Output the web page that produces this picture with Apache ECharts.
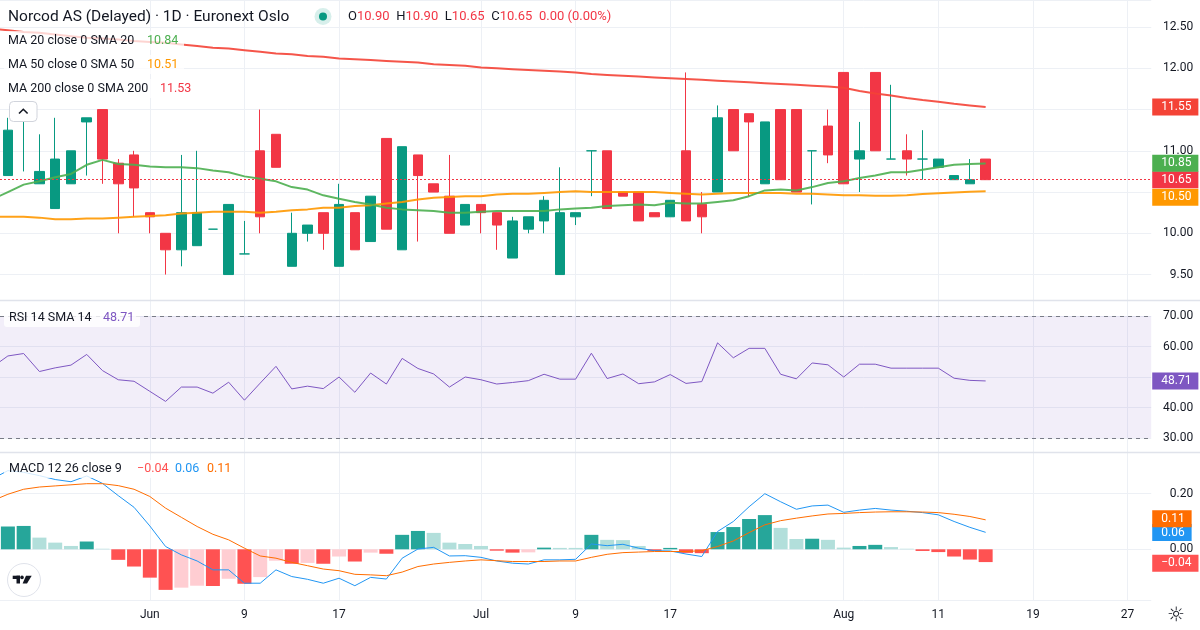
<!DOCTYPE html>
<html>
<head>
<meta charset="utf-8">
<script src="https://cdn.jsdelivr.net/npm/echarts@6/dist/echarts.min.js"></script>
<style>
  html, body { margin: 0; padding: 0; background: #fff; }
  #chart { width: 1200px; height: 630px; }
</style>
</head>
<body>
<div id="chart"></div>
<script>
// one slot per trading day; slot -1 is only the point the lines enter from at the left edge,
// slots 63..72 are the empty future area on the right
const slots = []
for (let i = -1; i <= 72; i++) slots.push(String(i))

const xTickAt = [9, 15, 21, 30, 36, 42, 53, 59, 65, 71]
const xTickText = ['Jun', '9', '17', 'Jul', '9', '17', 'Aug', '11', '19', '27']

// daily candles, index -1 .. 62
const opens = ['-',
  10.70, 11.40, 10.60, 10.30, 10.60, 11.35, 11.50, 10.85, 10.95, 10.25,
  10.00, 9.80, 9.85, 10.05, 9.50, 9.75, 11.00, 11.20, 9.60, 10.00,
  10.25, 9.60, 10.25, 9.90, 11.15, 9.80, 10.95, 10.60, 10.45, 10.10,
  10.35, 10.25, 9.70, 10.05, 10.15, 9.50, 10.20, 11.00, 11.00, 10.50,
  10.50, 10.25, 10.20, 11.00, 10.35, 10.50, 11.50, 11.45, 10.60, 11.50,
  11.50, 11.00, 11.30, 11.95, 10.90, 11.95, 10.90, 11.00, 10.90, 10.80,
  10.65, 10.60, 10.90]
const closes = ['-',
  11.25, 11.40, 10.75, 10.90, 11.00, 11.40, 10.90, 10.60, 10.55, 10.20,
  9.80, 10.25, 10.25, 10.05, 10.35, 9.75, 10.20, 10.80, 10.00, 10.10,
  10.00, 10.35, 9.80, 10.45, 10.05, 11.05, 10.70, 10.50, 10.00, 10.35,
  10.25, 10.10, 10.15, 10.20, 10.40, 10.25, 10.25, 11.00, 10.30, 10.45,
  10.15, 10.20, 10.40, 10.15, 10.20, 11.40, 11.00, 11.35, 11.35, 10.65,
  10.50, 11.00, 10.95, 10.60, 11.00, 11.00, 10.90, 10.90, 10.90, 10.90,
  10.70, 10.65, 10.65]
const lows = ['-',
  10.70, 10.75, 10.60, 10.30, 10.60, 10.70, 10.60, 10.00, 10.20, 10.00,
  9.50, 9.60, 9.85, 10.05, 9.50, 9.75, 10.00, 10.80, 9.60, 9.90,
  9.80, 9.60, 9.80, 9.90, 10.05, 9.80, 9.90, 10.50, 10.00, 10.10,
  10.00, 9.80, 9.70, 10.00, 10.00, 9.50, 10.10, 10.45, 10.30, 10.45,
  10.15, 10.20, 10.20, 10.15, 10.00, 10.50, 11.00, 10.45, 10.60, 10.65,
  10.50, 10.35, 10.85, 10.60, 10.50, 11.00, 10.90, 10.70, 10.65, 10.80,
  10.65, 10.60, 10.65]
const highs = ['-',
  11.40, 11.45, 11.20, 11.40, 11.00, 11.40, 11.50, 10.90, 11.00, 10.25,
  10.00, 10.95, 11.00, 10.05, 10.35, 10.15, 11.50, 11.20, 10.25, 10.10,
  10.25, 10.60, 10.25, 10.45, 11.15, 11.05, 10.95, 10.60, 10.95, 10.35,
  10.35, 10.25, 10.20, 10.20, 10.45, 10.80, 10.25, 11.00, 11.00, 10.50,
  10.50, 10.25, 10.40, 11.95, 10.50, 11.55, 11.50, 11.45, 11.35, 11.50,
  11.50, 11.00, 11.50, 11.95, 11.35, 11.95, 11.80, 11.20, 11.25, 10.90,
  10.70, 10.90, 10.90]

const sma20 = [10.41,
  10.50, 10.59, 10.63, 10.68, 10.72, 10.83, 10.89, 10.84, 10.83, 10.81,
  10.80, 10.80, 10.79, 10.76, 10.74, 10.69, 10.66, 10.63, 10.56, 10.53,
  10.46, 10.42, 10.38, 10.35, 10.31, 10.29, 10.28, 10.27, 10.25, 10.25,
  10.26, 10.27, 10.27, 10.27, 10.27, 10.29, 10.30, 10.31, 10.33, 10.34,
  10.35, 10.34, 10.37, 10.36, 10.36, 10.38, 10.40, 10.45, 10.52, 10.53,
  10.52, 10.56, 10.61, 10.63, 10.67, 10.70, 10.74, 10.74, 10.77, 10.80,
  10.83, 10.84, 10.845]
const sma50 = [10.20,
  10.20, 10.20, 10.19, 10.17, 10.17, 10.18, 10.18, 10.19, 10.20, 10.21,
  10.22, 10.24, 10.25, 10.26, 10.26, 10.26, 10.25, 10.26, 10.28, 10.29,
  10.31, 10.31, 10.33, 10.34, 10.36, 10.38, 10.41, 10.43, 10.44, 10.45,
  10.45, 10.47, 10.48, 10.48, 10.49, 10.50, 10.51, 10.50, 10.50, 10.50,
  10.50, 10.50, 10.49, 10.48, 10.47, 10.48, 10.49, 10.49, 10.49, 10.49,
  10.48, 10.48, 10.47, 10.46, 10.46, 10.455, 10.455, 10.46, 10.475, 10.485,
  10.495, 10.505, 10.51]
const sma200 = [12.48,
  12.46, 12.44, 12.43, 12.41, 12.39, 12.37, 12.36, 12.35, 12.33, 12.32,
  12.31, 12.29, 12.27, 12.25, 12.24, 12.22, 12.20, 12.18, 12.17, 12.15,
  12.14, 12.12, 12.11, 12.10, 12.09, 12.08, 12.07, 12.05, 12.04, 12.03,
  12.01, 12.00, 11.99, 11.98, 11.97, 11.96, 11.95, 11.93, 11.92, 11.91,
  11.90, 11.89, 11.88, 11.87, 11.86, 11.85, 11.84, 11.83, 11.82, 11.81,
  11.80, 11.79, 11.78, 11.765, 11.725, 11.695, 11.67, 11.64, 11.615, 11.595,
  11.57, 11.55, 11.53]

const rsi = [53.2,
  56.9, 57.7, 51.8, 53.0, 53.9, 57.4, 52.1, 49.1, 48.6, 45.3,
  42.0, 46.7, 46.7, 44.7, 48.3, 42.4, 48.0, 53.5, 46.1, 47.0,
  46.2, 50.0, 45.0, 51.3, 47.7, 56.1, 52.8, 51.0, 46.7, 50.0,
  49.1, 47.7, 48.2, 48.8, 50.9, 49.3, 49.3, 57.8, 49.5, 51.0,
  47.8, 48.4, 50.8, 47.9, 48.5, 61.2, 56.3, 59.4, 59.4, 50.9,
  49.4, 54.6, 54.0, 50.0, 54.2, 54.2, 52.9, 52.9, 52.9, 52.9,
  49.6, 48.9, 48.71]

const macd = [0.253,
  0.283, 0.277, 0.265, 0.251, 0.243, 0.264, 0.237, 0.193, 0.151, 0.084,
  0.010, -0.020, -0.042, -0.074, -0.074, -0.122, -0.122, -0.074, -0.098, -0.108,
  -0.122, -0.104, -0.131, -0.101, -0.107, -0.032, 0.001, 0.007, -0.024, -0.023,
  -0.029, -0.042, -0.050, -0.053, -0.038, -0.038, -0.036, 0.019, 0.013, 0.018,
  0.004, -0.005, -0.006, -0.017, -0.026, 0.064, 0.100, 0.153, 0.200, 0.171,
  0.144, 0.156, 0.159, 0.133, 0.141, 0.147, 0.141, 0.137, 0.132, 0.124,
  0.100, 0.079, 0.061]
const signal = [0.174,
  0.198, 0.216, 0.224, 0.228, 0.232, 0.236, 0.236, 0.229, 0.216, 0.190,
  0.148, 0.115, 0.082, 0.054, 0.034, 0.004, -0.024, -0.032, -0.047, -0.059,
  -0.071, -0.077, -0.090, -0.092, -0.095, -0.082, -0.062, -0.053, -0.047, -0.042,
  -0.038, -0.041, -0.044, -0.044, -0.044, -0.042, -0.042, -0.029, -0.018, -0.012,
  -0.010, -0.008, -0.008, -0.008, -0.005, 0.010, 0.030, 0.060, 0.088, 0.103,
  0.112, 0.120, 0.127, 0.129, 0.132, 0.134, 0.135, 0.135, 0.134, 0.132,
  0.126, 0.118, 0.106]
const hist = ['-',
  0.082, 0.084, 0.042, 0.024, 0.012, 0.028, 0.002, -0.038, -0.062, -0.102,
  -0.146, -0.138, -0.131, -0.132, -0.106, -0.124, -0.100, -0.041, -0.052, -0.049,
  -0.052, -0.026, -0.044, -0.012, -0.016, 0.052, 0.066, 0.059, 0.024, 0.019,
  0.012, -0.005, -0.012, -0.011, 0.006, 0.005, 0.005, 0.052, 0.034, 0.033,
  0.012, -0.006, 0.005, -0.013, -0.014, 0.062, 0.080, 0.109, 0.123, 0.077,
  0.037, 0.038, 0.034, 0.006, 0.012, 0.016, 0.008, 0.002, -0.006, -0.010,
  -0.026, -0.037, -0.046]

// texts shown in the legends and on the price-scale badges
const legendOhlc = ['10.90', '10.90', '10.65', '10.65', '0.00 (0.00%)']
const legendMa = ['10.84', '10.51', '11.53']
const priceBadgeText = ['11.55', '10.85', '10.65', '10.50']
const rsiBadgeText = '48.71'
const macdLegend = ['\u22120.04', '0.06', '0.11']
const macdBadgeText = ['0.11', '0.06', '\u22120.04']

const UP = '#089981'
const DOWN = '#F23645'
const FONT = 'Roboto, "Noto Sans", sans-serif'
const last = arr => arr[arr.length - 1]

const candles = opens.map((o, i) => {
  if (o === '-') return '-'
  const item = { value: [o, closes[i], lows[i], highs[i]] }
  // flat bars are drawn in the up colour
  if (o === closes[i]) item.itemStyle = { color: UP, color0: UP, borderColor: UP, borderColor0: UP }
  return item
})

const histBars = hist.map((v, i) => {
  if (v === '-') return '-'
  const prev = hist[i - 1] === '-' ? null : hist[i - 1]
  const rising = prev !== null && prev < v
  let color
  if (v >= 0) color = prev === null || rising ? '#26A69A' : '#B2DFDB'
  else color = rising ? '#FFCDD2' : '#FF5252'
  return { value: v, itemStyle: { color } }
})

function badge(value, text, bg, dy) {
  return {
    yAxis: value,
    lineStyle: { color: 'rgba(0,0,0,0)', width: 0, opacity: 1 },
    label: {
      show: true, position: 'end', distance: 1, formatter: text, opacity: 1,
      color: '#fff', backgroundColor: bg, padding: [3, 7, 2, 9],
      fontSize: 12, fontFamily: FONT, offset: [0, dy || 0]
    }
  }
}
const markBase = { symbol: ['none', 'none'], silent: true, animation: false }

const showTick = (idx, val) => xTickAt.indexOf(Number(val)) >= 0
function xAxisFor(gridIndex) {
  return {
    type: 'category', gridIndex, data: slots, boundaryGap: true,
    // start at slot 0 so slot -1 sits just off the left edge
    min: 1, max: slots.length - 1,
    axisLine: { show: false }, axisTick: { show: false },
    axisLabel: {
      show: gridIndex === 2, interval: showTick, margin: 9,
      color: '#131722', fontSize: 12, fontFamily: FONT,
      formatter: v => { const k = xTickAt.indexOf(Number(v)); return k >= 0 ? xTickText[k] : '' }
    },
    splitLine: { show: true, interval: showTick, alignWithLabel: true, lineStyle: { color: '#EDF0F5', width: 1 } }
  }
}
// scale labels that would sit under a value badge are left out, as on the original
function yAxisFor(gridIndex, min, max, splitNumber, badgeValues, pxPerUnit) {
  return {
    type: 'value', gridIndex, position: 'right', min, max, splitNumber,
    axisLine: { show: false }, axisTick: { show: false },
    axisLabel: {
      margin: 42, align: 'right', color: '#131722', fontSize: 12, fontFamily: FONT,
      showMinLabel: false, showMaxLabel: false,
      formatter: v => badgeValues.some(b => Math.abs(v - b) * pxPerUnit < 10) ? '' : v.toFixed(2)
    },
    splitLine: { lineStyle: { color: '#EDF0F5' } }
  }
}

const gridSide = { left: 0, right: 48.77 }

const option = {
  animation: false,
  backgroundColor: '#fff',
  textStyle: { fontFamily: FONT },
  grid: [
    { ...gridSide, top: 0, height: 300 },
    { ...gridSide, top: 300, height: 152 },
    { ...gridSide, top: 452, height: 148 }
  ],
  xAxis: [xAxisFor(0), xAxisFor(1), xAxisFor(2)],
  yAxis: [
    yAxisFor(0, 9.1915, 12.828, 7, [last(sma200), last(sma20), last(closes), last(sma50)], 82.5),
    yAxisFor(1, 25.41, 75.25, 5, [last(rsi)], 3.05),
    yAxisFor(2, -0.1824, 0.35, 3, [last(signal), last(macd), last(hist)], 278)
  ],
  series: [
    {
      type: 'candlestick', xAxisIndex: 0, yAxisIndex: 0, data: candles, barWidth: 10, z: 3,
      itemStyle: { color: UP, color0: DOWN, borderColor: UP, borderColor0: DOWN, borderWidth: 1 }
    },
    {
      type: 'line', xAxisIndex: 0, yAxisIndex: 0, data: sma200, showSymbol: false, z: 4,
      lineStyle: { color: '#F44336', width: 2, opacity: 0.9 },
      markLine: { ...markBase, data: [badge(last(sma200), priceBadgeText[0], '#F44336')] }
    },
    {
      type: 'line', xAxisIndex: 0, yAxisIndex: 0, data: sma50, showSymbol: false, z: 4,
      lineStyle: { color: '#FF9800', width: 2, opacity: 0.9 },
      markLine: { ...markBase, data: [badge(last(sma50), priceBadgeText[3], '#FF9800', 6)] }
    },
    {
      type: 'line', xAxisIndex: 0, yAxisIndex: 0, data: sma20, showSymbol: false, z: 4,
      lineStyle: { color: '#4CAF50', width: 2, opacity: 0.9 },
      markLine: { ...markBase, data: [
        // last close: dotted price line and its badge
        { yAxis: last(closes), lineStyle: { color: DOWN, type: [2, 2], width: 1, opacity: 1 }, label: { show: false } },
        badge(last(closes), priceBadgeText[2], DOWN),
        badge(last(sma20), priceBadgeText[1], '#4CAF50')
      ] }
    },
    {
      type: 'line', xAxisIndex: 1, yAxisIndex: 1, data: rsi, showSymbol: false, z: 4,
      lineStyle: { color: '#7E57C2', width: 1 },
      markArea: { silent: true, itemStyle: { color: 'rgba(126,87,194,0.1)' }, data: [[{ yAxis: 30 }, { yAxis: 70 }]] },
      markLine: { ...markBase, data: [
        { yAxis: 70, lineStyle: { color: '#787B86', type: [4, 4], width: 1 }, label: { show: false } },
        { yAxis: 30, lineStyle: { color: '#787B86', type: [4, 4], width: 1 }, label: { show: false } },
        badge(last(rsi), rsiBadgeText, '#7E57C2')
      ] }
    },
    {
      type: 'bar', xAxisIndex: 2, yAxisIndex: 2, data: histBars, barWidth: 14, z: 3,
      markLine: { ...markBase, data: [badge(last(hist), macdBadgeText[2], '#FF5252')] }
    },
    {
      type: 'line', xAxisIndex: 2, yAxisIndex: 2, data: macd, showSymbol: false, z: 4,
      lineStyle: { color: '#2196F3', width: 1 },
      markLine: { ...markBase, data: [badge(last(macd), macdBadgeText[1], '#2196F3')] }
    },
    {
      type: 'line', xAxisIndex: 2, yAxisIndex: 2, data: signal, showSymbol: false, z: 4,
      lineStyle: { color: '#FF6D00', width: 1 },
      markLine: { ...markBase, data: [badge(last(signal), macdBadgeText[0], '#FF6D00')] }
    }
  ],
  graphic: [
    // pane separators
    { type: 'line', z: 20, shape: { x1: 0, y1: 300.5, x2: 1200, y2: 300.5 }, style: { stroke: '#E0E3EB', lineWidth: 1.5 } },
    { type: 'line', z: 20, shape: { x1: 0, y1: 452.5, x2: 1200, y2: 452.5 }, style: { stroke: '#E0E3EB', lineWidth: 1.5 } },

    // header
    { type: 'text', z: 20, x: 8, y: 17, style: { text: 'Norcod AS (Delayed) \u00b7 1D \u00b7 Euronext Oslo', font: '15.5px ' + FONT, fill: '#131722', verticalAlign: 'middle' } },
    { type: 'circle', z: 20, shape: { cx: 323, cy: 16.5, r: 8.5 }, style: { fill: 'rgba(8,153,129,0.16)' } },
    { type: 'circle', z: 21, shape: { cx: 323, cy: 16.5, r: 4 }, style: { fill: UP } },
    {
      type: 'text', z: 20, x: 348, y: 17,
      style: {
        text: '{l|O}{v|' + legendOhlc[0] + '}  {l|H}{v|' + legendOhlc[1] + '}  {l|L}{v|' + legendOhlc[2] + '}  {l|C}{v|' + legendOhlc[3] + '}  {v|' + legendOhlc[4] + '}',
        verticalAlign: 'middle',
        rich: { l: { fill: '#131722', fontSize: 13, fontFamily: FONT }, v: { fill: DOWN, fontSize: 13, fontFamily: FONT } }
      }
    },

    // moving average legends
    { type: 'rect', z: 20, shape: { x: 4, y: 31, width: 180, height: 19, r: 3 }, style: { fill: 'rgba(255,255,255,0.75)' } },
    { type: 'rect', z: 20, shape: { x: 4, y: 55, width: 180, height: 19, r: 3 }, style: { fill: 'rgba(255,255,255,0.75)' } },
    { type: 'rect', z: 20, shape: { x: 4, y: 79, width: 193, height: 19, r: 3 }, style: { fill: 'rgba(255,255,255,0.75)' } },
    { type: 'text', z: 21, x: 8, y: 41, style: { text: 'MA 20 close 0 SMA 20', font: '12.5px ' + FONT, fill: '#131722', verticalAlign: 'middle' } },
    { type: 'text', z: 21, x: 147, y: 41, style: { text: legendMa[0], font: '12.5px ' + FONT, fill: '#4CAF50', verticalAlign: 'middle' } },
    { type: 'text', z: 21, x: 8, y: 64.5, style: { text: 'MA 50 close 0 SMA 50', font: '12.5px ' + FONT, fill: '#131722', verticalAlign: 'middle' } },
    { type: 'text', z: 21, x: 147, y: 64.5, style: { text: legendMa[1], font: '12.5px ' + FONT, fill: '#FF9800', verticalAlign: 'middle' } },
    { type: 'text', z: 21, x: 8, y: 89, style: { text: 'MA 200 close 0 SMA 200', font: '12.5px ' + FONT, fill: '#131722', verticalAlign: 'middle' } },
    { type: 'text', z: 21, x: 160, y: 89, style: { text: legendMa[2], font: '12.5px ' + FONT, fill: '#F23645', verticalAlign: 'middle' } },

    // collapse button
    { type: 'rect', z: 22, shape: { x: 9.5, y: 101.5, width: 27.5, height: 20, r: 4 }, style: { fill: '#fff', stroke: '#D1D4DC', lineWidth: 1 } },
    { type: 'polyline', z: 23, shape: { points: [[19, 113.5], [23.3, 109.3], [27.6, 113.5]] }, style: { stroke: '#131722', lineWidth: 1.6, fill: null } },

    // RSI legend
    { type: 'rect', z: 20, shape: { x: 4, y: 309, width: 136, height: 18, r: 3 }, style: { fill: 'rgba(255,255,255,0.8)' } },
    { type: 'text', z: 21, x: 9, y: 318, style: { text: 'RSI 14 SMA 14', font: '12.5px ' + FONT, fill: '#131722', verticalAlign: 'middle' } },
    { type: 'text', z: 21, x: 103, y: 318, style: { text: rsiBadgeText, font: '12.5px ' + FONT, fill: '#7E57C2', verticalAlign: 'middle' } },

    // MACD legend
    { type: 'rect', z: 20, shape: { x: 4, y: 460, width: 232, height: 18, r: 3 }, style: { fill: 'rgba(255,255,255,0.8)' } },
    { type: 'text', z: 21, x: 9, y: 469, style: { text: 'MACD 12 26 close 9', font: '12.5px ' + FONT, fill: '#131722', verticalAlign: 'middle' } },
    { type: 'text', z: 21, x: 137, y: 469, style: { text: macdLegend[0], font: '12.5px ' + FONT, fill: '#FF5252', verticalAlign: 'middle' } },
    { type: 'text', z: 21, x: 175, y: 469, style: { text: macdLegend[1], font: '12.5px ' + FONT, fill: '#2196F3', verticalAlign: 'middle' } },
    { type: 'text', z: 21, x: 207, y: 469, style: { text: macdLegend[2], font: '12.5px ' + FONT, fill: '#FF6D00', verticalAlign: 'middle' } },

    // logo
    { type: 'circle', z: 20, shape: { cx: 24, cy: 580, r: 16.5 }, style: { fill: '#fff', stroke: '#E0E3EB', lineWidth: 1 } },
    { type: 'rect', z: 21, shape: { x: 12.7, y: 575.7, width: 7.3, height: 3.3 }, style: { fill: '#131722' } },
    { type: 'rect', z: 21, shape: { x: 16.5, y: 575.7, width: 3.5, height: 7.8 }, style: { fill: '#131722' } },
    { type: 'circle', z: 21, shape: { cx: 22, cy: 577.4, r: 1.8 }, style: { fill: '#131722' } },
    { type: 'polygon', z: 21, shape: { points: [[26, 575.7], [31.7, 575.7], [27, 583.5], [22.6, 583.5]] }, style: { fill: '#131722' } },

    // settings icon
    { type: 'text', z: 20, x: 1176, y: 616, style: { text: '\u263c', font: '20px "DejaVu Sans"', fill: '#131722', align: 'center', verticalAlign: 'middle' } }
  ]
}

const chart = echarts.init(document.getElementById('chart'))
chart.setOption(option)
</script>
</body>
</html>
